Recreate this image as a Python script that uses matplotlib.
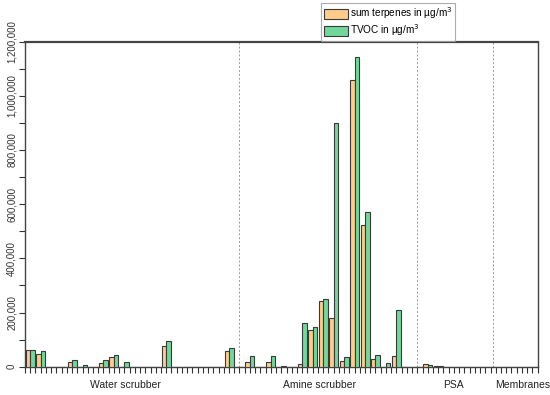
import numpy as np
import matplotlib
matplotlib.use("Agg")
import matplotlib.pyplot as plt
from matplotlib.ticker import FuncFormatter, MultipleLocator

plt.rcParams['font.family'] = ['Liberation Sans', 'DejaVu Sans']

# one value per sample position (49 positions on the category axis)
terpenes = [60000, 46000, 0, 0, 17000, 0, 0, 12000, 37000, 0,
            0, 0, 0, 78000, 0, 0, 0, 0, 0, 57000,
            0, 16000, 0, 17000, 0, 0, 10000, 136000, 244000, 180000,
            20000, 1057000, 524000, 28000, 0, 41000, 0, 0, 9000, 1500,
            0, 0, 0, 0, 0, 0, 0, 0, 0]
tvoc = [62000, 58000, 0, 0, 24000, 5000, 0, 24000, 42000, 17000,
        0, 0, 0, 94000, 0, 0, 0, 0, 0, 70000,
        0, 41000, 0, 41000, 3000, 0, 160000, 146000, 251000, 899000,
        35000, 1145000, 570000, 44000, 13000, 210000, 0, 0, 8000, 1500,
        0, 0, 0, 0, 0, 0, 0, 0, 0]
groups = ['Water scrubber', 'Amine scrubber', 'PSA', 'Membranes']
group_label_x = [9.06, 27.66, 40.5, 47.1]
separators = [20, 37, 44.2]

c_terp = '#FFCC8C'
c_tvoc = '#6FD89A'

fig = plt.figure(figsize=(5.5, 3.95), dpi=100)
ax = fig.add_axes([0.0455, 0.0716, 0.932, 0.8228])

x = np.arange(len(terpenes))
bw = 0.43
ax.bar(x - bw, terpenes, width=bw, align='edge', color=c_terp,
       edgecolor='#3a3a3a', linewidth=0.8, label='sum terpenes in µg/m$^3$', zorder=3)
ax.bar(x, tvoc, width=bw, align='edge', color=c_tvoc,
       edgecolor='#3a3a3a', linewidth=0.8, label='TVOC in µg/m$^3$', zorder=3)

for s in separators:
    ax.axvline(s, color='#9a9a9a', linestyle=(0, (2, 2)), linewidth=0.7, zorder=1)

ax.set_xlim(-0.5, len(terpenes) - 0.5)
ax.set_ylim(0, 1200000)

ax.set_xticks(np.arange(-0.5, len(terpenes), 0.5))
ax.set_xticklabels([])
ax.tick_params(axis='x', direction='out', length=4, width=0.8, color='#333333')

ax.yaxis.set_major_locator(MultipleLocator(200000))
ax.yaxis.set_minor_locator(MultipleLocator(100000))
ax.yaxis.set_major_formatter(FuncFormatter(lambda v, p: f'{int(v):,}'))
ax.tick_params(axis='y', which='both', direction='out', length=4, width=0.8,
               color='#333333', labelsize=7, pad=2, labelcolor='#333333')
for lbl in ax.get_yticklabels():
    lbl.set_rotation(90)
    lbl.set_va('center')

for sp in ax.spines.values():
    sp.set_color('#444444')
    sp.set_linewidth(1.0)
ax.spines['top'].set_linewidth(1.6)

for name, gx in zip(groups, group_label_x):
    ax.text(gx, -0.056, name, transform=ax.get_xaxis_transform(),
            ha='center', va='center', fontsize=7.5, color='#222222')

leg = fig.legend(loc='upper left', bbox_to_anchor=(321 / 550, 1 - 3 / 395),
                 fontsize=7.2, frameon=True, fancybox=False, borderpad=0.25,
                 handlelength=2.4, handleheight=1.2, handletextpad=0.3,
                 labelspacing=0.1, borderaxespad=0)
leg.get_frame().set_edgecolor('#999999')
leg.get_frame().set_linewidth(0.8)

fig.savefig('out.png', dpi=100)
